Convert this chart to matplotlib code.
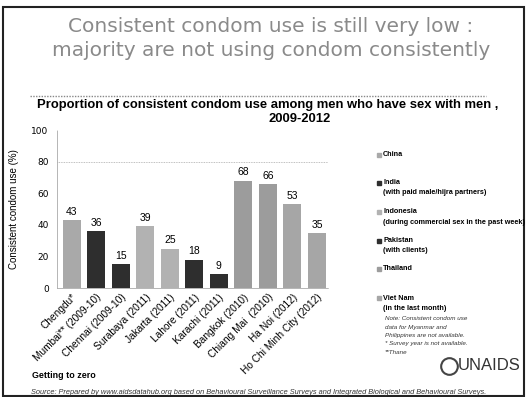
import matplotlib.pyplot as plt
from matplotlib.patches import Rectangle
from matplotlib.lines import Line2D

# bar data
cities = ["Chengdu*", "Mumbai** (2009-10)", "Chennai (2009-10)", "Surabaya (2011)",
          "Jakarta (2011)", "Lahore (2011)", "Karachi (2011)", "Bangkok (2010)",
          "Chiang Mai  (2010)", "Ha Noi (2012)", "Ho Chi Minh City (2012)"]
values = [43, 36, 15, 39, 25, 18, 9, 68, 66, 53, 35]
country = ["China", "India", "India", "Indonesia", "Indonesia", "Pakistan", "Pakistan",
           "Thailand", "Thailand", "Viet Nam", "Viet Nam"]

legend_names = ["China", "India", "Indonesia", "Pakistan", "Thailand", "Viet Nam"]
legend_notes = ["", "(with paid male/hijra partners)", "(during commercial sex in the past week)",
                "(with clients)", "", "(in the last month)"]
shade = {"China": "#a9a9a9", "India": "#2e2e2e", "Indonesia": "#b2b2b2",
         "Pakistan": "#2e2e2e", "Thailand": "#9c9c9c", "Viet Nam": "#a6a6a6"}

W, H = 527, 397
fig = plt.figure(figsize=(W / 100, H / 100), dpi=100)
fig.patch.set_facecolor("white")
FONT = "Liberation Sans"


def fx(px):
    return px / W


def fy(py):
    return 1 - py / H


# slide frame
fig.add_artist(Rectangle((fx(3), fy(396)), fx(521), fy(7) - fy(396),
                         transform=fig.transFigure, fill=False, lw=1.5, ec="#222222"))

# headline (wide letter spacing in the slide, DejaVu is closer to that)
fig.text(fx(271), fy(26), "Consistent condom use is still very low :", ha="center", va="center",
         fontsize=14.5, color="#8a8a8a", family="DejaVu Sans")
fig.text(fx(271), fy(50), "majority are not using condom consistently", ha="center", va="center",
         fontsize=14.5, color="#8a8a8a", family="DejaVu Sans")
fig.add_artist(Line2D([fx(30), fx(486)], [fy(96), fy(96)], transform=fig.transFigure,
                      color="#888888", lw=1, ls=(0, (1, 1))))

# chart title
fig.text(fx(268), fy(105), "Proportion of consistent condom use among men who have sex with men ,",
         ha="center", va="center", fontsize=9.4, fontweight="bold", family=FONT)
fig.text(fx(300), fy(119), "2009-2012", ha="center", va="center", fontsize=9.4,
         fontweight="bold", family=FONT)

ax = fig.add_axes([fx(57), fy(288), fx(328) - fx(57), fy(130) - fy(288)])
x = list(range(len(values)))
ax.bar(x, values, width=0.73, color=[shade[c] for c in country], zorder=2)
for xi, v in zip(x, values):
    ax.text(xi, v + 2, str(v), ha="center", va="bottom", fontsize=7.5, family=FONT)

ax.set_ylim(0, 100)
ax.set_xlim(-0.6, 10.45)
ax.set_yticks([0, 20, 40, 60, 80, 100])
ax.tick_params(axis="y", labelsize=6.5, length=0, pad=6)
ax.set_xticks(x)
ax.set_xticklabels(cities, rotation=45, ha="right", rotation_mode="anchor",
                   fontsize=7.3, family=FONT)
ax.tick_params(axis="x", length=0, pad=3)
ax.axhline(80, color="#aaaaaa", lw=0.6, ls=(0, (1, 1)), zorder=1)
for s in ["top", "right"]:
    ax.spines[s].set_visible(False)
for s in ["left", "bottom"]:
    ax.spines[s].set_color("#aaaaaa")
    ax.spines[s].set_linestyle((0, (1, 1)))
    ax.spines[s].set_linewidth(0.6)
ax.set_ylabel("Consistent condom use (%)", fontsize=7, family=FONT, labelpad=9)

# legend at the right
rows = [155, 183, 212, 241, 269, 298]
for name, note, r in zip(legend_names, legend_notes, rows):
    fig.add_artist(Rectangle((fx(377), fy(r + 2)), fx(3.5), fy(r - 2) - fy(r + 2),
                             transform=fig.transFigure, color=shade[name]))
    fig.text(fx(383), fy(r), name, fontsize=5.2, fontweight="bold", va="center", family=FONT)
    if note:
        fig.text(fx(383), fy(r + 10), note, fontsize=5.2, fontweight="bold", va="center",
                 family=FONT)

notes = ["Note: Consistent condom use", "data for Myanmar and",
         "Philippines are not available.", "* Survey year is not available.", "**Thane"]
for i, line in enumerate(notes):
    fig.text(fx(385), fy(319 + i * 8.3), line, fontsize=4.5, style="italic", va="center",
             family=FONT, color="#333333")

# footer
fig.text(fx(32), fy(376), "Getting to zero", fontsize=6.4, fontweight="bold", va="center",
         family=FONT)
fig.text(fx(31), fy(392), "Source: Prepared by www.aidsdatahub.org based on Behavioural Surveillance "
         "Surveys and Integrated Biological and Behavioural Surveys.",
         fontsize=5.3, style="italic", va="center", family=FONT, color="#333333")
fig.add_artist(Line2D([fx(449)], [fy(366)], transform=fig.transFigure, marker="o",
                      markersize=12, mfc="none", mec="#444444", mew=1.5))
fig.text(fx(458), fy(366), "UNAIDS", fontsize=12, va="center", family=FONT, color="#333333")

fig.savefig("out.png", dpi=100)
